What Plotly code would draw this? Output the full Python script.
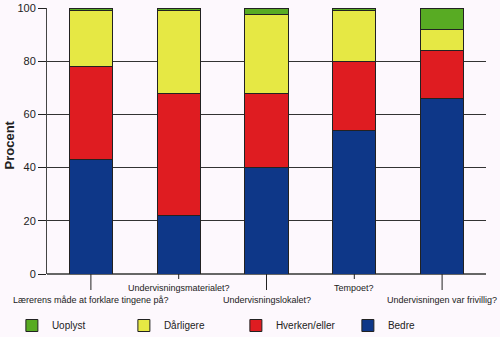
import plotly.graph_objects as go

categories = [
    "Lærerens måde at forklare tingene på?",
    "Undervisningsmaterialet?",
    "Undervisningslokalet?",
    "Tempoet?",
    "Undervisningen var frivillig?",
]
bedre = [43, 22, 40, 54, 66]
hverken = [35, 46, 28, 26, 18]
daarligere = [21, 31, 29.5, 19, 8]
uoplyst = [1, 1, 2.5, 1, 8]

series_names = ["Bedre", "Hverken/eller", "Dårligere", "Uoplyst"]
series_values = [bedre, hverken, daarligere, uoplyst]
series_colors = ["#0e3788", "#df1c21", "#e6e844", "#58ab23"]

y_ticks = [0, 20, 40, 60, 80, 100]

BG = "#fdf8fd"
INK = "#222222"
FONT = "Liberation Sans, Arial, sans-serif"

x_idx = list(range(len(categories)))

fig = go.Figure()
for name, vals, col in zip(series_names, series_values, series_colors):
    fig.add_trace(go.Bar(
        x=x_idx, y=vals, name=name,
        marker=dict(color=col, line=dict(color=INK, width=1)),
    ))

n = len(categories)
shapes = []
annotations = []
PH = 266.0
for i, cat in enumerate(categories):
    xp = (i + 0.5) / n
    long = (i % 2 == 0)
    tick_end = 16 if long else 5
    shapes.append(dict(type="line", xref="paper", yref="paper",
                       x0=xp, x1=xp, y0=0, y1=-tick_end / PH,
                       line=dict(color=INK, width=1)))
    ly = 26 if long else 14
    annotations.append(dict(text=cat, xref="x", yref="paper", x=i,
                            y=-ly / PH, showarrow=False, xanchor="center",
                            yanchor="middle",
                            font=dict(size=9, color=INK, family=FONT)))

annotations.append(dict(text="<b>Procent</b>", xref="paper", yref="paper",
                        x=-(47 - 8.5) / 439, y=(274 - 145) / PH,
                        textangle=-90, showarrow=False, xanchor="center",
                        yanchor="middle",
                        font=dict(size=13, color=INK, family=FONT)))

fig.update_layout(
    width=500, height=337,
    margin=dict(l=47, r=14, t=8, b=63, autoexpand=False),
    paper_bgcolor=BG, plot_bgcolor=BG,
    barmode="stack", bargap=0.51,
    font=dict(family=FONT, size=11, color=INK),
    showlegend=True,
    legend=dict(orientation="h", traceorder="reversed",
                x=-0.08, xanchor="left", y=-51.5 / PH, yanchor="middle",
                entrywidth=67, entrywidthmode="pixels",
                font=dict(size=10, color=INK, family=FONT),
                bgcolor="rgba(0,0,0,0)"),
    xaxis=dict(range=[-0.5, n - 0.5], tickvals=x_idx, showticklabels=False,
               ticks="", showgrid=False, zeroline=False, showline=False,
               automargin=False),
    yaxis=dict(range=[0, 100], tickvals=y_ticks, ticks="outside", ticklen=8,
               tickcolor=INK, showgrid=True, gridcolor="#333333",
               gridwidth=1, showline=True, linecolor="#444444",
               zeroline=True, zerolinecolor="#666666", automargin=False,
               tickfont=dict(size=11, color=INK, family=FONT)),
    shapes=shapes,
    annotations=annotations,
)

fig.write_html("out.html")
